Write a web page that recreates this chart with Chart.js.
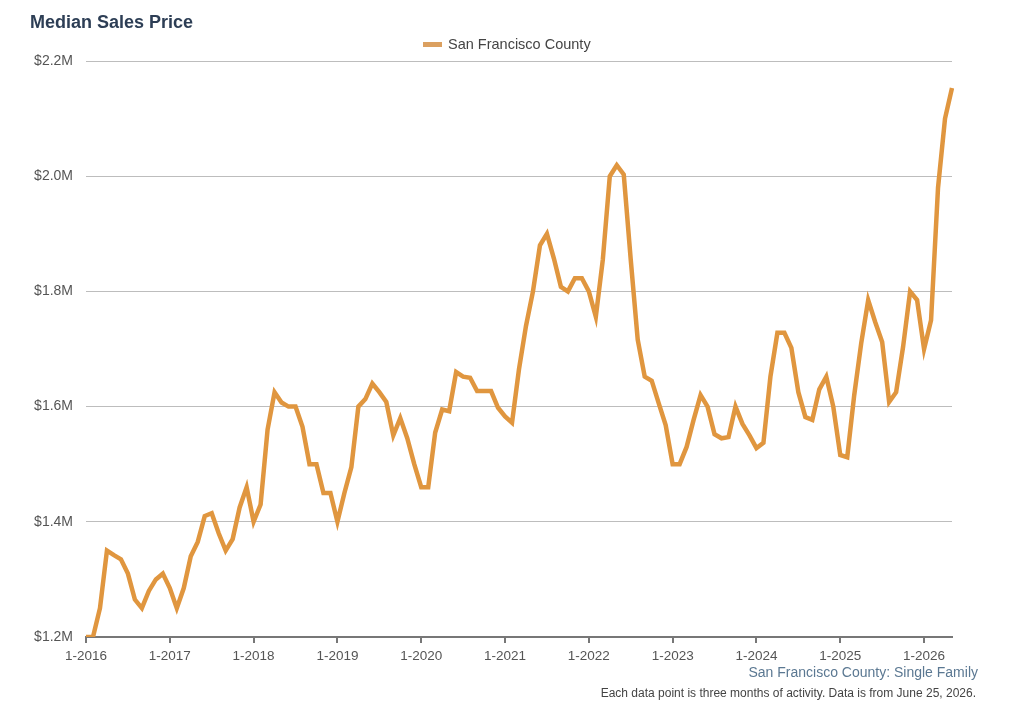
<!DOCTYPE html>
<html lang="en">
<head>
    <meta charset="UTF-8">
    <title>Median Sales Price</title>
    <style>
        body {
            margin: 0;
            background: #ffffff;
            font-family: "Liberation Sans", Arial, sans-serif;
        }
        .wrap {
            position: relative;
            width: 1014px;
            height: 708px;
            overflow: hidden;
        }
        .chart-box {
            position: absolute;
            left: 0;
            top: 0;
            width: 1014px;
            height: 708px;
        }
        h1 {
            position: absolute;
            left: 30px;
            top: 12px;
            margin: 0;
            font-size: 18px;
            font-weight: bold;
            color: #2d3e55;
        }
        .legend {
            position: absolute;
            left: 423px;
            top: 36px;
            font-size: 14.5px;
            color: #444;
            white-space: nowrap;
        }
        .legend .swatch {
            display: inline-block;
            width: 19px;
            height: 5px;
            background: #dba060;
            vertical-align: middle;
            margin-right: 6px;
            position: relative;
            top: -1px;
        }
        .source {
            position: absolute;
            right: 36px;
            top: 664px;
            font-size: 14px;
            color: #5b7892;
        }
        .note {
            position: absolute;
            right: 38px;
            top: 686px;
            font-size: 12px;
            color: #444;
        }
    </style>
    <script src="https://cdn.jsdelivr.net/npm/chart.js"></script>
</head>
<body>
<div class="wrap">
    <div class="chart-box"><canvas id="priceChart"></canvas></div>
    <h1>Median Sales Price</h1>
    <div class="legend"><span class="swatch"></span>San Francisco County</div>
    <div class="source">San Francisco County: Single Family</div>
    <div class="note">Each data point is three months of activity. Data is from June 25, 2026.</div>
</div>

<script>
    // median price in $M, one value per month, Jan 2016 .. May 2026
    var years = [2016, 2017, 2018, 2019, 2020, 2021, 2022, 2023, 2024, 2025, 2026];
    var p2016 = [1.20, 1.20, 1.25, 1.35, 1.342, 1.335, 1.31, 1.265, 1.25, 1.28, 1.30, 1.31];
    var p2017 = [1.285, 1.25, 1.285, 1.34, 1.365, 1.41, 1.415, 1.38, 1.35, 1.37, 1.425, 1.46];
    var p2018 = [1.40, 1.43, 1.56, 1.625, 1.607, 1.60, 1.60, 1.565, 1.50, 1.50, 1.45, 1.45];
    var p2019 = [1.40, 1.45, 1.495, 1.60, 1.613, 1.64, 1.625, 1.608, 1.55, 1.58, 1.545, 1.50];
    var p2020 = [1.46, 1.46, 1.555, 1.595, 1.592, 1.66, 1.652, 1.65, 1.627, 1.627, 1.627, 1.598];
    var p2021 = [1.583, 1.572, 1.665, 1.74, 1.80, 1.88, 1.90, 1.857, 1.808, 1.80, 1.823, 1.823];
    var p2022 = [1.80, 1.756, 1.855, 2.00, 2.019, 2.003, 1.855, 1.716, 1.652, 1.645, 1.606, 1.568];
    var p2023 = [1.50, 1.50, 1.53, 1.577, 1.62, 1.60, 1.552, 1.545, 1.547, 1.60, 1.57, 1.55];
    var p2024 = [1.528, 1.537, 1.652, 1.728, 1.728, 1.702, 1.625, 1.582, 1.577, 1.63, 1.652, 1.60];
    var p2025 = [1.516, 1.512, 1.62, 1.71, 1.785, 1.747, 1.712, 1.608, 1.625, 1.704, 1.80, 1.785];
    var p2026 = [1.70, 1.75, 1.98, 2.10, 2.153];

    var perYear = [p2016, p2017, p2018, p2019, p2020, p2021, p2022, p2023, p2024, p2025, p2026];

    var labels = [];
    var values = [];
    for (var i = 0; i < years.length; i++) {
        for (var m = 0; m < perYear[i].length; m++) {
            labels.push((m + 1) + '-' + years[i]);
            values.push(perYear[i][m]);
        }
    }

    var ctx = document.getElementById('priceChart').getContext('2d');
    new Chart(ctx, {
        type: 'line',
        data: {
            labels: labels,
            datasets: [{
                label: 'San Francisco County',
                data: values,
                borderColor: '#e0963f',
                backgroundColor: '#e0963f',
                borderWidth: 4.5,
                pointRadius: 0,
                tension: 0,
                fill: false
            }]
        },
        options: {
            responsive: true,
            maintainAspectRatio: false,
            animation: false,
            layout: {
                padding: { top: 61, right: 62, bottom: 41, left: 0 }
            },
            plugins: {
                legend: { display: false },
                tooltip: { enabled: false }
            },
            scales: {
                x: {
                    afterFit: function(scale) { scale.height = 30; },
                    grid: {
                        drawOnChartArea: false,
                        drawTicks: true,
                        tickLength: 6,
                        color: '#777',
                        lineWidth: 2
                    },
                    border: { display: true, color: '#777', width: 2 },
                    ticks: {
                        autoSkip: false,
                        maxRotation: 0,
                        padding: 5,
                        color: '#555',
                        font: { family: '"Liberation Sans", Arial, sans-serif', size: 13.5 },
                        callback: function(value, index) {
                            var lab = this.getLabelForValue(value);
                            return lab.indexOf('1-') === 0 ? lab : null;
                        }
                    }
                },
                y: {
                    min: 1.2,
                    max: 2.2,
                    afterFit: function(scale) { scale.width = 86; },
                    grid: {
                        color: '#bdbdbd',
                        lineWidth: 1,
                        drawTicks: false
                    },
                    border: { display: false },
                    ticks: {
                        stepSize: 0.2,
                        padding: 13,
                        color: '#555',
                        font: { family: '"Liberation Sans", Arial, sans-serif', size: 14 },
                        callback: function(value) {
                            return '$' + value.toFixed(1) + 'M';
                        }
                    }
                }
            }
        }
    });
</script>
</body>
</html>
